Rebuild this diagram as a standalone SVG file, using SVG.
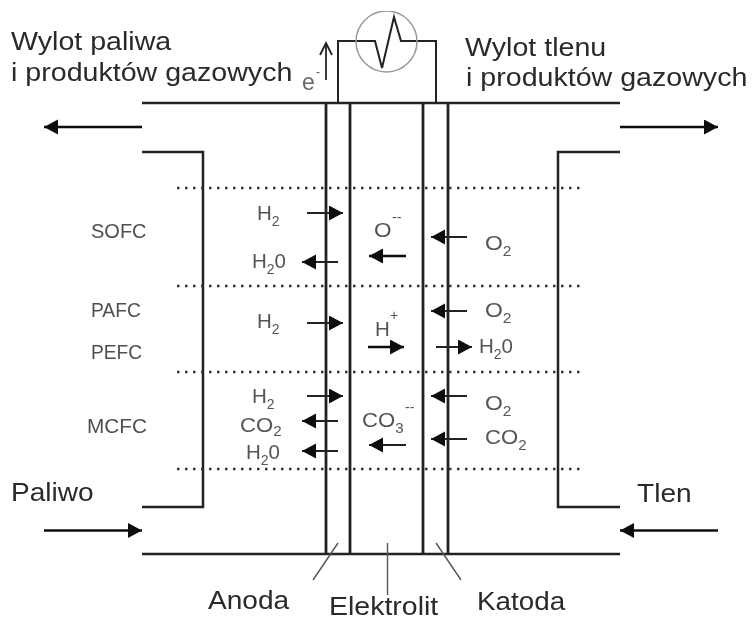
<svg xmlns="http://www.w3.org/2000/svg" width="753" height="621" viewBox="0 0 753 621">
<style>
text{font-family:"Liberation Sans",Arial,sans-serif;fill:#2a2a2a}
.l{font-size:26px}
.m{font-size:20px;fill:#505050}
.s{font-size:20.500px;fill:#555}
.sub{font-size:14px;fill:#555}
.n{stroke:#222;stroke-width:2.800;fill:none}
.h{stroke:#222;stroke-width:2.500;fill:none}
.d{stroke:#333;stroke-width:2.500;stroke-dasharray:2.500 5.500;fill:none}
.a{stroke:#222;stroke-width:2;fill:none;marker-end:url(#ah)}
.b{stroke:#111;stroke-width:2.500;fill:none;marker-end:url(#ah)}
.t{stroke:#555;stroke-width:1.400;fill:none}
</style>
<defs>
<marker id="ah" markerUnits="userSpaceOnUse" markerWidth="16" markerHeight="16" refX="14" refY="7.500" orient="auto"><path d="M0 0L14 7.500L0 15Z" fill="#111"/></marker>
<filter id="soft" x="0" y="0" width="100%" height="100%"><feGaussianBlur stdDeviation="0.600"/></filter>
</defs>
<rect width="753" height="621" fill="#fff"/>
<g filter="url(#soft)">
<g id="connectors">
<path class="h" d="M142 103H620M142 554H620M142 152H203V507H142M620 152H558V507H620"/>
<path class="n" d="M326 103V554M350 103V554M423 103V554M448 103V554"/>
<path class="d" d="M177 188H581M177 286H581M177 372H581M177 469H581"/>
<path class="b" d="M142 127H44"/><path class="b" d="M620 127H718"/>
<path class="b" d="M44 530.500H142"/><path class="b" d="M718 530.500H620"/>
<path class="a" d="M307 213H343"/><path class="a" d="M338 262H302"/><path class="b" d="M406 256H369"/><path class="a" d="M467 237H431"/>
<path class="a" d="M307 323H343"/><path class="a" d="M467 311H431"/><path class="b" d="M368 347H404"/><path class="a" d="M436 347H472"/>
<path class="a" d="M307 396H343"/><path class="a" d="M338 421H302"/><path class="a" d="M338 451H302"/><path class="a" d="M406 445H369"/><path class="a" d="M467 396H431"/><path class="a" d="M467 439H431"/>
<path class="t" d="M338 543L313 580M387.500 543V595M436 543L461 580"/>
<path d="M326 80V44" stroke="#222" stroke-width="1.800" fill="none"/><path d="M320 55L326 43L332 55" stroke="#222" stroke-width="1.800" fill="none"/>
</g>
<g id="source">
<path d="M338 102V41H375L382 68L394 17L401 41H436V102" fill="none" stroke="#222" stroke-width="2"/>
<circle cx="386.500" cy="41.500" r="30.500" fill="none" stroke="#999" stroke-width="1.500"/>
</g>
<g id="labels">
<text class="l" transform="translate(11 49.500) scale(1.1 1)">Wylot paliwa</text>
<text class="l" transform="translate(11 81) scale(1.1 1)">i produktów gazowych</text>
<text class="sub" style="font-size:23px;fill:#666" x="302" y="90">e</text><text class="sub" style="font-size:12px" x="316" y="76">-</text>
<text class="l" transform="translate(465 55.500) scale(1.1 1)">Wylot tlenu</text>
<text class="l" transform="translate(466 86) scale(1.1 1)">i produktów gazowych</text>
<text class="l" transform="translate(11 500.500) scale(1.08 1)">Paliwo</text>
<text class="l" transform="translate(637 501.500) scale(1.08 1)">Tlen</text>
<text class="l" transform="translate(208 609) scale(1.08 1)">Anoda</text>
<text class="l" style="font-size:25px" transform="translate(329 615) scale(1.14 1)">Elektrolit</text>
<text class="l" transform="translate(477 610) scale(1.07 1)">Katoda</text>
<text class="m" x="91" y="237.500">SOFC</text>
<text class="m" transform="translate(91 317) scale(.96 1)">PAFC</text>
<text class="m" transform="translate(91 359) scale(.96 1)">PEFC</text>
<text class="m" transform="translate(87 433) scale(1.04 1)">MCFC</text>
<text class="s" transform="translate(257 220)">H<tspan class="sub" dy="6">2</tspan></text>
<text class="s" transform="translate(252 268)">H<tspan class="sub" dy="6">2</tspan><tspan dy="-6">0</tspan></text>
<text class="s" transform="translate(374 237) scale(1.1 1)">O</text><text class="sub" x="392" y="222">--</text>
<text class="s" transform="translate(485 250) scale(1.12 1)">O<tspan class="sub" dy="6">2</tspan></text>
<text class="s" transform="translate(257 328)">H<tspan class="sub" dy="6">2</tspan></text>
<text class="s" x="375" y="336">H</text><text class="sub" x="390" y="320">+</text>
<text class="s" transform="translate(485 317) scale(1.12 1)">O<tspan class="sub" dy="6">2</tspan></text>
<text class="s" transform="translate(479 353)">H<tspan class="sub" dy="6">2</tspan><tspan dy="-6">0</tspan></text>
<text class="s" transform="translate(252 403)">H<tspan class="sub" dy="6">2</tspan></text>
<text class="s" transform="translate(240 432) scale(1.08 1)">CO<tspan class="sub" dy="4">2</tspan></text>
<text class="s" transform="translate(246 459)">H<tspan class="sub" dy="6">2</tspan><tspan dy="-6">0</tspan></text>
<text class="s" transform="translate(362 427) scale(1.08 1)">CO<tspan class="sub" dy="6">3</tspan></text><text class="sub" x="405" y="412">--</text>
<text class="s" transform="translate(485 410) scale(1.12 1)">O<tspan class="sub" dy="6">2</tspan></text>
<text class="s" transform="translate(485 444) scale(1.08 1)">CO<tspan class="sub" dy="6">2</tspan></text>
</g>
</g>
</svg>
